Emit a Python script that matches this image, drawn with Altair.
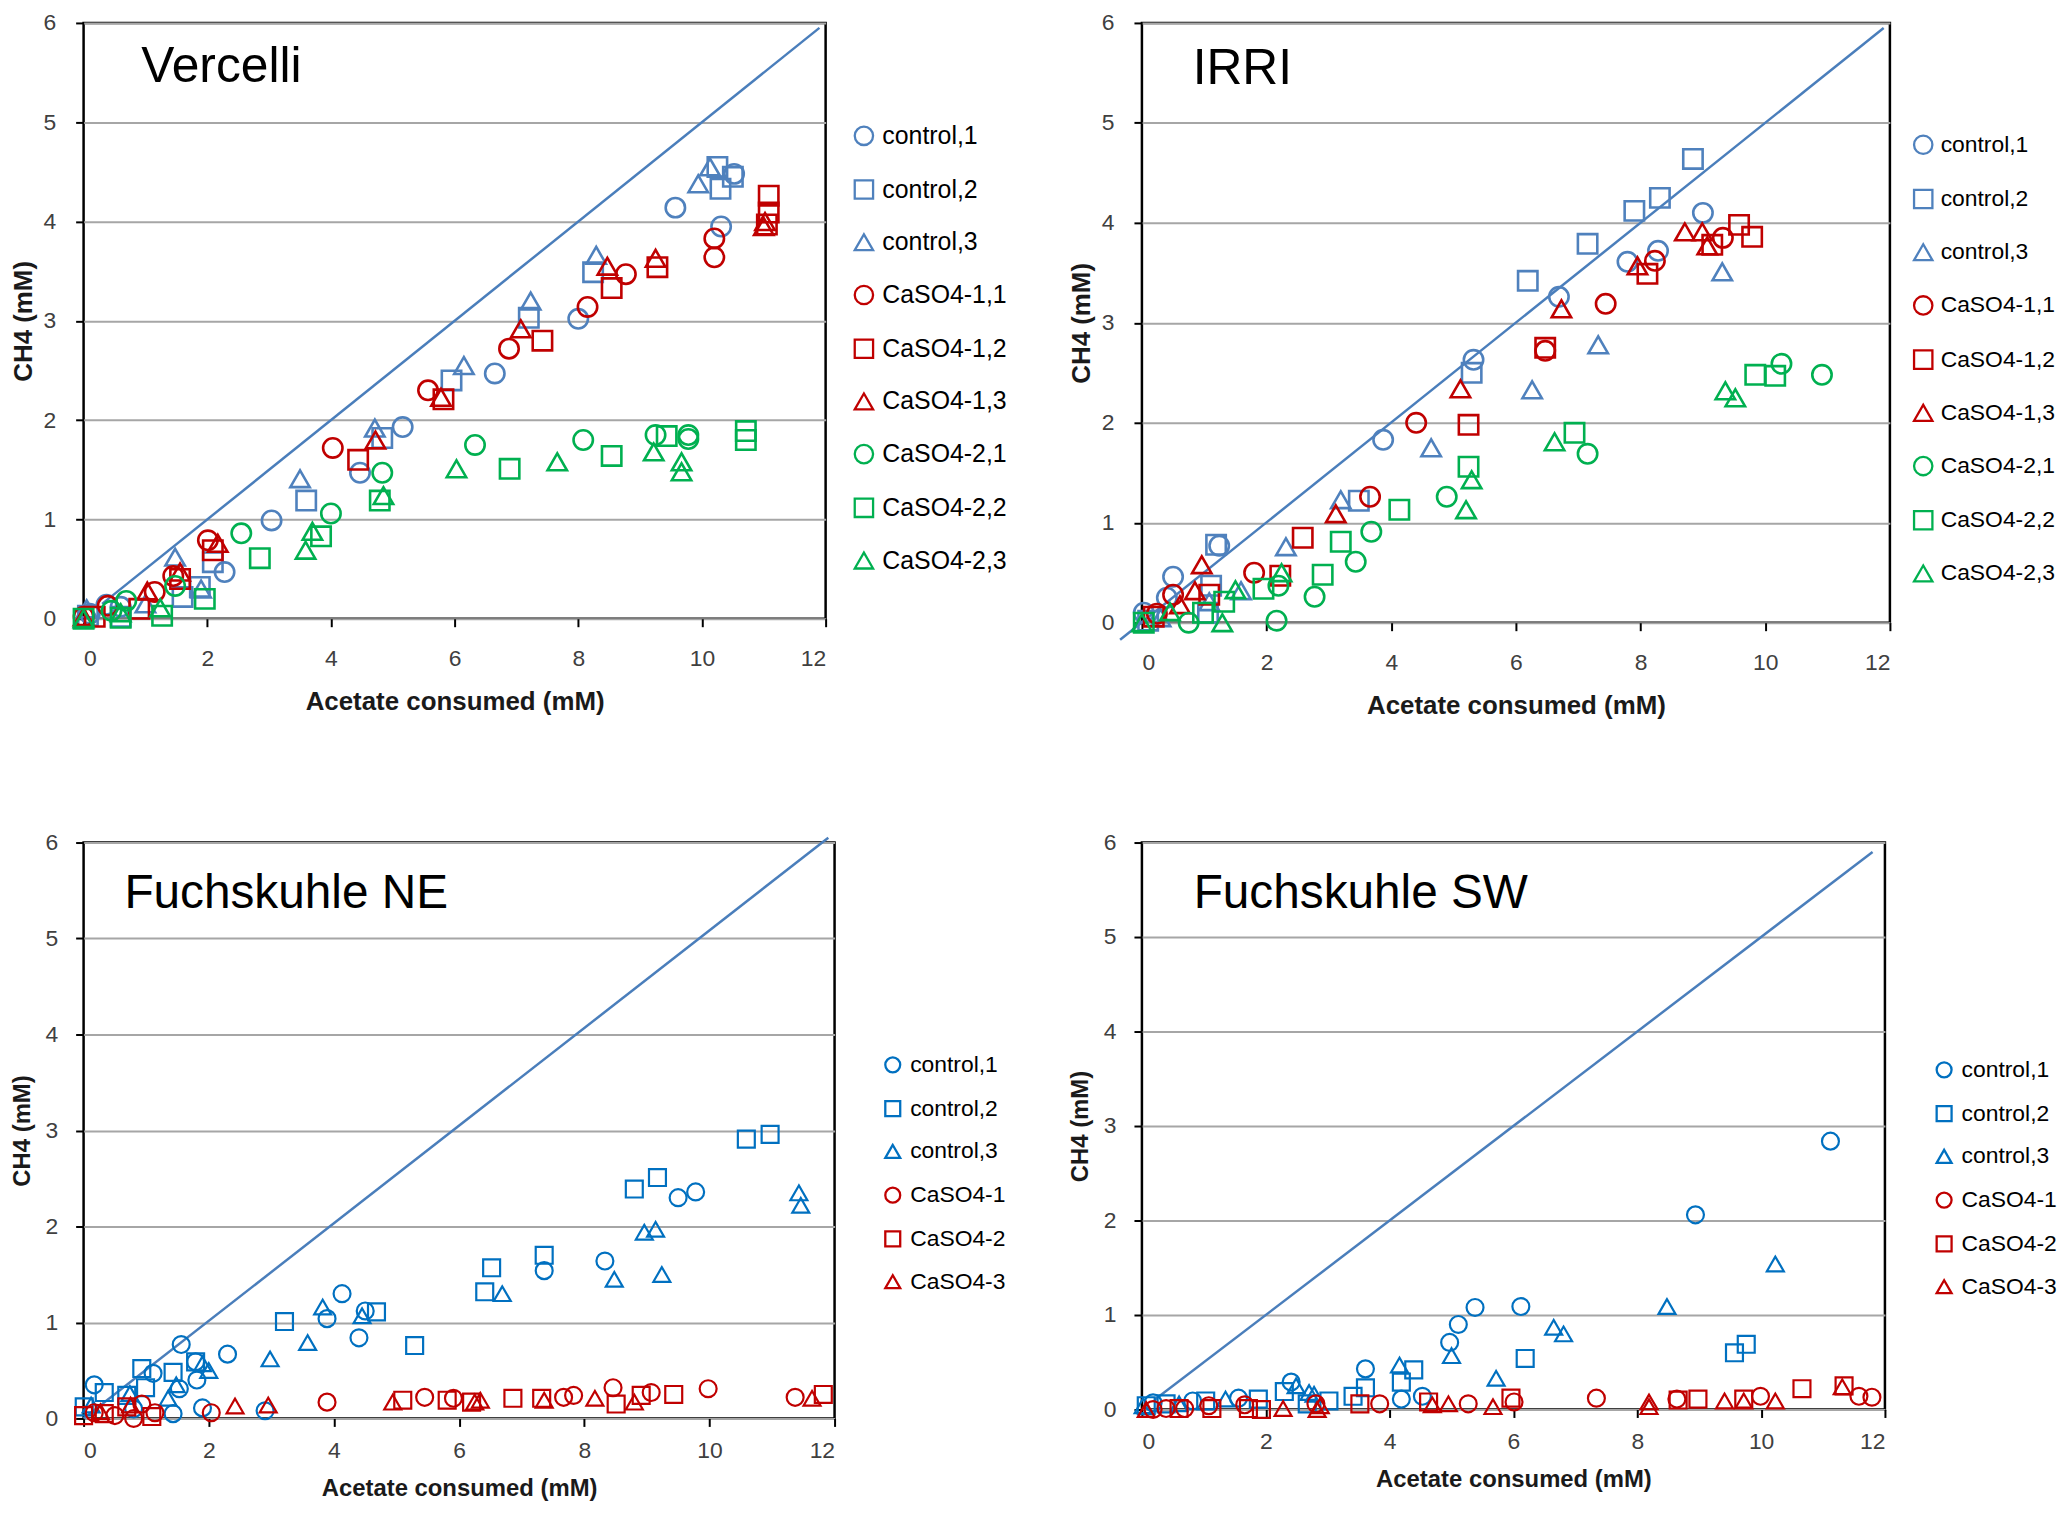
import altair as alt
import pandas as pd

# series names / legend labels
top_names = ["control,1", "control,2", "control,3",
             "CaSO4-1,1", "CaSO4-1,2", "CaSO4-1,3",
             "CaSO4-2,1", "CaSO4-2,2", "CaSO4-2,3"]
bot_names = ["control,1", "control,2", "control,3",
             "CaSO4-1", "CaSO4-2", "CaSO4-3"]
panel_titles = ["Vercelli", "IRRI", "Fuchskuhle NE", "Fuchskuhle SW"]

x_ticks = [0, 2, 4, 6, 8, 10, 12]
y_ticks = [0, 1, 2, 3, 4, 5, 6]

# --- Vercelli (acetate consumed, CH4) ---
verc_ctrl1 = [(9.57, 4.14), (10.31, 3.95), (10.52, 4.48), (8.0, 3.02), (6.65, 2.47), (5.16, 1.93),
              (4.47, 1.47), (3.04, 0.99), (2.28, 0.47), (0.37, 0.14), (0.6, 0.12), (0.1, 0.05)]
verc_ctrl2 = [(10.25, 4.55), (10.3, 4.33), (10.5, 4.45), (8.24, 3.49), (7.2, 3.03), (5.95, 2.4),
              (4.83, 1.82), (3.6, 1.19), (2.09, 0.57), (1.88, 0.32), (1.6, 0.22), (0.07, 0.03), (0.6, 0.02)]
verc_ctrl3 = [(10.13, 4.55), (9.94, 4.38), (8.29, 3.66), (7.23, 3.2), (6.15, 2.55), (4.71, 1.92),
              (3.5, 1.41), (1.48, 0.62), (1.9, 0.3), (0.05, 0.1), (1.0, 0.15)]
verc_ca11 = [(10.2, 3.83), (10.2, 3.64), (8.77, 3.47), (8.15, 3.14), (6.88, 2.72), (5.57, 2.3),
             (4.03, 1.72), (2.01, 0.79), (1.45, 0.43), (1.15, 0.27), (0.39, 0.13), (0.0, 0.02)]
verc_ca12 = [(11.08, 4.26), (11.08, 4.09), (11.05, 3.97), (9.28, 3.54), (8.54, 3.33), (7.42, 2.8),
             (5.82, 2.21), (4.44, 1.6), (2.09, 0.69), (1.56, 0.4), (0.9, 0.1), (0.18, 0.02)]
verc_ca13 = [(11.02, 4.0), (11.0, 3.95), (9.25, 3.63), (8.47, 3.55), (7.07, 2.92), (5.78, 2.23),
             (4.72, 1.8), (2.17, 0.76), (1.56, 0.47), (1.03, 0.28), (0.0, 0.02)]
verc_ca21 = [(9.78, 1.85), (9.78, 1.81), (9.25, 1.85), (8.08, 1.8), (6.33, 1.75), (4.83, 1.47),
             (4.0, 1.06), (2.55, 0.86), (1.48, 0.33), (0.69, 0.18), (0.45, 0.08)]
verc_ca22 = [(10.71, 1.89), (10.71, 1.8), (9.43, 1.84), (8.54, 1.64), (6.89, 1.51), (4.79, 1.19),
             (3.84, 0.83), (2.85, 0.61), (1.96, 0.2), (1.27, 0.03), (0.6, 0.01), (0.0, 0.0)]
verc_ca23 = [(9.67, 1.58), (9.67, 1.48), (9.22, 1.68), (7.66, 1.58), (6.03, 1.51), (4.85, 1.24),
             (3.7, 0.88), (3.59, 0.69), (1.24, 0.11), (0.6, 0.06), (0.0, 0.0)]
verc_line = [(0.3, 0.15), (11.9, 5.95)]

# --- IRRI ---
irri_ctrl1 = [(9.0, 4.1), (8.28, 3.72), (7.79, 3.61), (6.69, 3.26), (5.32, 2.63), (3.87, 1.83),
              (1.24, 0.77), (0.5, 0.46), (0.4, 0.25), (0.03, 0.1)]
irri_ctrl2 = [(8.84, 4.64), (8.31, 4.25), (7.9, 4.12), (7.15, 3.79), (6.19, 3.42), (5.29, 2.5),
              (3.48, 1.22), (1.19, 0.78), (1.11, 0.37), (1.06, 0.1), (0.1, 0.02)]
irri_ctrl3 = [(9.31, 3.51), (7.32, 2.78), (6.26, 2.33), (4.64, 1.75), (3.19, 1.23), (2.31, 0.76),
              (1.59, 0.32), (1.08, 0.21), (0.3, 0.05)]
irri_ca11 = [(9.32, 3.85), (8.23, 3.62), (7.44, 3.19), (6.47, 2.72), (4.4, 2.0), (3.66, 1.26),
             (1.8, 0.5), (0.5, 0.28), (0.24, 0.09)]
irri_ca12 = [(9.79, 3.86), (9.58, 3.98), (9.15, 3.78), (8.11, 3.49), (6.47, 2.75), (5.24, 1.98),
             (2.58, 0.85), (2.22, 0.47), (1.08, 0.28), (0.19, 0.06)]
irri_ca13 = [(8.71, 3.91), (8.99, 3.91), (9.07, 3.77), (7.95, 3.57), (6.73, 3.14), (5.11, 2.34),
             (3.11, 1.09), (0.96, 0.58), (0.85, 0.32), (0.61, 0.18)]
irri_ca21 = [(10.91, 2.48), (10.26, 2.59), (7.15, 1.69), (4.89, 1.26), (3.68, 0.91), (3.43, 0.61),
             (2.77, 0.26), (2.16, 0.02), (2.19, 0.37), (0.75, 0.0)]
irri_ca22 = [(9.84, 2.48), (10.16, 2.47), (6.94, 1.9), (5.24, 1.56), (4.13, 1.13), (3.19, 0.81),
             (2.9, 0.48), (1.95, 0.34), (1.32, 0.21), (0.98, 0.1), (0.03, 0.0)]
irri_ca23 = [(9.36, 2.32), (9.52, 2.25), (6.62, 1.81), (5.29, 1.43), (5.2, 1.13), (2.24, 0.5),
             (1.5, 0.33), (1.29, 0.0), (0.45, 0.11), (0.0, 0.0)]
irri_line = [(-0.35, -0.17), (11.9, 5.95)]

# --- Fuchskuhle NE ---
fne_ctrl1 = [(9.78, 2.36), (9.5, 2.3), (8.33, 1.64), (7.36, 1.54), (4.13, 1.3), (3.89, 1.04),
             (4.5, 1.12), (4.4, 0.84), (2.3, 0.67), (1.56, 0.77), (1.79, 0.59), (1.81, 0.4),
             (1.11, 0.47), (0.17, 0.35), (1.53, 0.31), (1.9, 0.11), (2.9, 0.08), (1.43, 0.05), (0.8, 0.1)]
fne_ctrl2 = [(10.97, 2.96), (10.59, 2.91), (9.17, 2.51), (8.8, 2.39), (7.36, 1.7), (6.52, 1.57),
             (6.41, 1.32), (4.68, 1.11), (3.21, 1.01), (5.29, 0.76), (1.79, 0.59), (1.43, 0.48),
             (0.93, 0.52), (0.99, 0.32), (0.33, 0.27), (0.69, 0.24), (0.01, 0.12)]
fne_ctrl3 = [(11.43, 2.35), (11.46, 2.22), (9.14, 1.97), (8.96, 1.94), (9.24, 1.5), (8.48, 1.45),
             (6.69, 1.3), (4.45, 1.07), (3.82, 1.16), (3.58, 0.79), (2.98, 0.62), (2.0, 0.5),
             (1.9, 0.57), (1.48, 0.35), (1.35, 0.21), (0.74, 0.26), (0.12, 0.14)]
fne_ca1 = [(9.98, 0.31), (11.37, 0.22), (9.07, 0.27), (8.46, 0.32), (7.83, 0.24), (7.67, 0.22),
           (5.91, 0.21), (5.45, 0.22), (3.89, 0.17), (2.04, 0.06), (1.14, 0.06), (0.93, 0.15),
           (0.8, 0.0), (0.17, 0.06), (0.5, 0.03)]
fne_ca2 = [(11.82, 0.25), (9.43, 0.25), (8.91, 0.24), (8.51, 0.15), (7.32, 0.21), (6.86, 0.21),
           (6.2, 0.17), (5.81, 0.19), (5.1, 0.19), (1.09, 0.02), (0.69, 0.12), (0.33, 0.05), (0.0, 0.03)]
fne_ca3 = [(11.64, 0.21), (8.8, 0.17), (8.17, 0.21), (7.36, 0.19), (6.34, 0.19), (6.25, 0.17),
           (4.94, 0.17), (2.95, 0.14), (2.42, 0.13), (0.75, 0.14), (0.27, 0.07)]
fne_line = [(0.0, 0.0), (11.9, 6.05)]

# --- Fuchskuhle SW ---
fsw_ctrl1 = [(11.12, 2.84), (8.94, 2.06), (6.12, 1.09), (5.38, 1.08), (5.11, 0.9), (4.97, 0.71),
             (3.61, 0.43), (4.53, 0.14), (4.19, 0.11), (2.41, 0.29), (1.56, 0.12), (0.82, 0.09), (0.18, 0.07)]
fsw_ctrl2 = [(9.76, 0.69), (9.57, 0.6), (6.19, 0.54), (4.39, 0.42), (4.19, 0.29), (3.61, 0.23),
             (3.41, 0.14), (3.02, 0.09), (2.67, 0.06), (2.3, 0.19), (1.88, 0.11), (1.03, 0.09),
             (0.39, 0.06), (0.07, 0.04)]
fsw_ctrl3 = [(10.23, 1.54), (8.48, 1.09), (6.65, 0.87), (6.81, 0.8), (5.0, 0.57), (5.72, 0.33),
             (4.16, 0.47), (2.49, 0.25), (2.7, 0.18), (2.78, 0.16), (1.35, 0.11), (0.6, 0.06), (0.02, 0.04)]
fsw_ca1 = [(11.79, 0.13), (11.58, 0.14), (9.99, 0.14), (8.64, 0.11), (7.34, 0.12), (6.01, 0.08),
           (5.27, 0.06), (3.84, 0.06), (2.81, 0.06), (1.66, 0.05), (1.08, 0.04), (0.69, 0.01),
           (0.39, 0.01), (0.18, 0.0)]
fsw_ca2 = [(11.34, 0.25), (10.66, 0.22), (9.72, 0.11), (8.98, 0.11), (8.66, 0.1), (5.96, 0.12),
           (4.63, 0.08), (3.52, 0.06), (1.93, 0.0), (1.72, 0.01), (1.13, 0.01), (0.6, 0.01)]
fsw_ca3 = [(11.31, 0.24), (10.23, 0.09), (9.72, 0.09), (9.41, 0.09), (8.19, 0.08), (8.19, 0.03),
           (5.67, 0.03), (4.95, 0.06), (4.69, 0.05), (2.88, 0.04), (2.83, 0.0), (2.28, 0.01), (0.07, 0.0)]
fsw_line = [(0.2, 0.1), (11.8, 5.9)]

FONT = "Liberation Sans"
TOP_BLUE, TOP_RED, TOP_GREEN = "#4F81BD", "#C00000", "#00B050"
BOT_BLUE, BOT_RED = "#0070C0", "#C00000"
LINE_BLUE = "#4A7EBB"

top_colors = [TOP_BLUE] * 3 + [TOP_RED] * 3 + [TOP_GREEN] * 3
top_shapes = ["circle", "square", "triangle-up"] * 3
bot_colors = [BOT_BLUE] * 3 + [BOT_RED] * 3
bot_shapes = ["circle", "square", "triangle-up"] * 2


def to_frame(names, groups):
    rows = []
    for nm, pts in zip(names, groups):
        for x, y in pts:
            rows.append({"x": x, "y": y, "series": nm})
    return pd.DataFrame(rows)


def panel(title, names, groups, colors, shapes, line_pts, w, h, s):
    df = to_frame(names, groups)
    line_df = pd.DataFrame(line_pts, columns=["x", "y"])

    xenc = alt.X("x:Q", scale=alt.Scale(domain=[0, 12], nice=False),
                 axis=alt.Axis(values=x_ticks, title="Acetate consumed (mM)", grid=False,
                               domain=False, tickSize=8, tickWidth=2, tickColor="black",
                               labelFontSize=23, labelColor="#404040", labelFont=FONT,
                               labelPadding=s["xlp"], titleFont=FONT, titleFontSize=s["xts"],
                               titleFontWeight="bold", titleColor="#1a1a1a",
                               titlePadding=s["xtp"]))
    yenc = alt.Y("y:Q", scale=alt.Scale(domain=[0, 6], nice=False),
                 axis=alt.Axis(values=y_ticks, title=s["ytitle"], grid=True,
                               gridColor="#A6A6A6", gridWidth=2, domain=False,
                               tickSize=8, tickWidth=2, tickColor="black",
                               labelFontSize=23, labelColor="#404040", labelFont=FONT,
                               labelPadding=s["ylp"], titleFont=FONT, titleFontSize=s["yts"],
                               titleFontWeight="bold", titleColor="#1a1a1a",
                               titlePadding=s["ytp"]))

    leg = alt.Legend(title=None, orient="none", legendX=s["lx"], legendY=s["ly"],
                     labelFont=FONT, labelFontSize=s["lfs"], labelColor="black",
                     symbolSize=s["lsym"], symbolStrokeWidth=2.3, rowPadding=s["lrow"],
                     labelOffset=6)

    line = alt.Chart(line_df).mark_line(color=LINE_BLUE, strokeWidth=2.5).encode(x=xenc, y=yenc)
    pts = alt.Chart(df).mark_point(filled=False, size=s["msize"], strokeWidth=s["mstroke"],
                                   opacity=1).encode(
        x=xenc, y=yenc,
        color=alt.Color("series:N", scale=alt.Scale(domain=names, range=colors), legend=leg),
        shape=alt.Shape("series:N", scale=alt.Scale(domain=names, range=shapes), legend=leg),
    )
    label = alt.Chart(pd.DataFrame({"t": [title]})).mark_text(
        align="left", baseline="middle", font=FONT, fontSize=s["tfs"], color="black"
    ).encode(x=alt.value(s["tx"]), y=alt.value(s["ty"]), text="t:N")

    return alt.layer(line, pts, label).properties(
        width=w, height=h, view=alt.ViewBackground(stroke="black", strokeWidth=2.5))


top_style = dict(xlp=21, xts=26, xtp=18, ylp=20, yts=26, ytp=7, ytitle="CH4 (mM)",
                 lfs=25, lsym=340, lrow=25, msize=380, mstroke=2.6, tfs=50)
p1 = panel(panel_titles[0], top_names,
           [verc_ctrl1, verc_ctrl2, verc_ctrl3, verc_ca11, verc_ca12, verc_ca13,
            verc_ca21, verc_ca22, verc_ca23],
           top_colors, top_shapes, verc_line, 746, 599,
           dict(top_style, lx=772, ly=101, tx=58, ty=44))
p2 = panel(panel_titles[1], top_names,
           [irri_ctrl1, irri_ctrl2, irri_ctrl3, irri_ca11, irri_ca12, irri_ca13,
            irri_ca21, irri_ca22, irri_ca23],
           top_colors, top_shapes, irri_line, 752, 603,
           dict(top_style, lx=774, ly=111, lfs=23, lrow=25.5, tx=51, ty=46))

bot_style = dict(xlp=13, xts=24, xtp=14, ylp=18, yts=24, ytp=11,
                 lfs=23, lsym=225, lrow=19, msize=290, mstroke=2.2, tfs=48)
p3 = panel(panel_titles[2], bot_names,
           [fne_ctrl1, fne_ctrl2, fne_ctrl3, fne_ca1, fne_ca2, fne_ca3],
           bot_colors, bot_shapes, fne_line, 755, 579,
           dict(bot_style, ytitle="CH4 (mM)", lx=802, ly=212, tx=41, ty=52))
p4 = panel(panel_titles[3], bot_names,
           [fsw_ctrl1, fsw_ctrl2, fsw_ctrl3, fsw_ca1, fsw_ca2, fsw_ca3],
           bot_colors, bot_shapes, fsw_line, 747, 570,
           dict(bot_style, ytitle="CH4  (mM)", lx=795, ly=217, tx=52, ty=52))

chart = alt.concat(p1, p2, p3, p4, columns=2, align="none", bounds="flush",
                   spacing={"row": 221, "column": 309}).resolve_scale(
    color="independent", shape="independent", x="independent", y="independent"
).resolve_legend(color="independent", shape="independent").properties(
    padding={"top": -2, "left": 0, "right": 0, "bottom": 0}, background="white"
).configure_view(stroke="transparent")

chart.save("out.html", embed_options={"renderer": "svg", "actions": False})
